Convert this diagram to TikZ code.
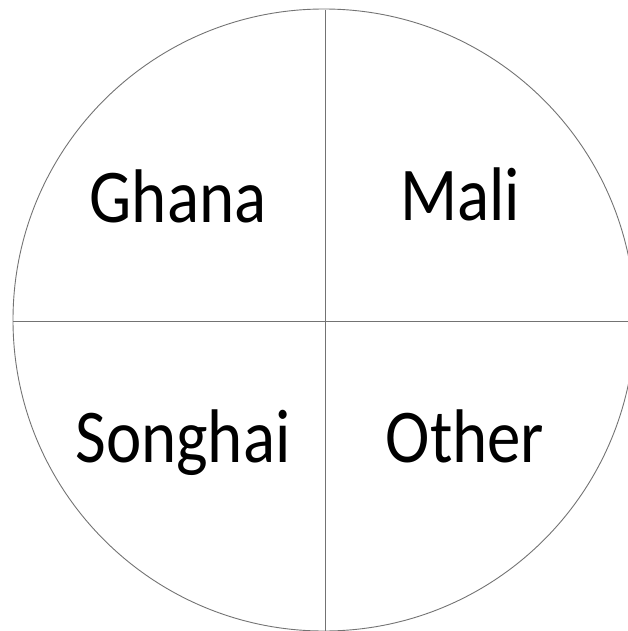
\documentclass[tikz,border=0pt]{standalone}
\usepackage{fontspec}
\setmainfont{Carlito}
\tikzset{
  divline/.style={draw=black!55, line width=0.9pt},
  lbl/.style={anchor=base, inner sep=0pt, font=\fontsize{76}{80}\selectfont, xscale=0.88}
}
\begin{document}
\begin{tikzpicture}[x=1pt,y=-1pt]
\useasboundingbox (0,0) rectangle (628,631);
\begin{scope}
\clip (0,0) rectangle (628,631);
\node[circle, draw=black!55, line width=0.9pt, minimum size=622pt, inner sep=0pt] (c) at (324,320) {};
\coordinate (top) at (325,10);
\coordinate (bot) at (325,631);
\coordinate (lft) at (13,321);
\coordinate (rgt) at (628,321);
\draw[divline] (top) -- (bot);
\draw[divline] (lft) -- (rgt);
\end{scope}
\node[lbl] (ghana) at (178,222) {Ghana};
\node[lbl] (mali) at (460,220) {Mali};
\node[lbl] (songhai) at (183,462) {Songhai};
\node[lbl] (other) at (465,462) {Other};
\end{tikzpicture}
\end{document}
